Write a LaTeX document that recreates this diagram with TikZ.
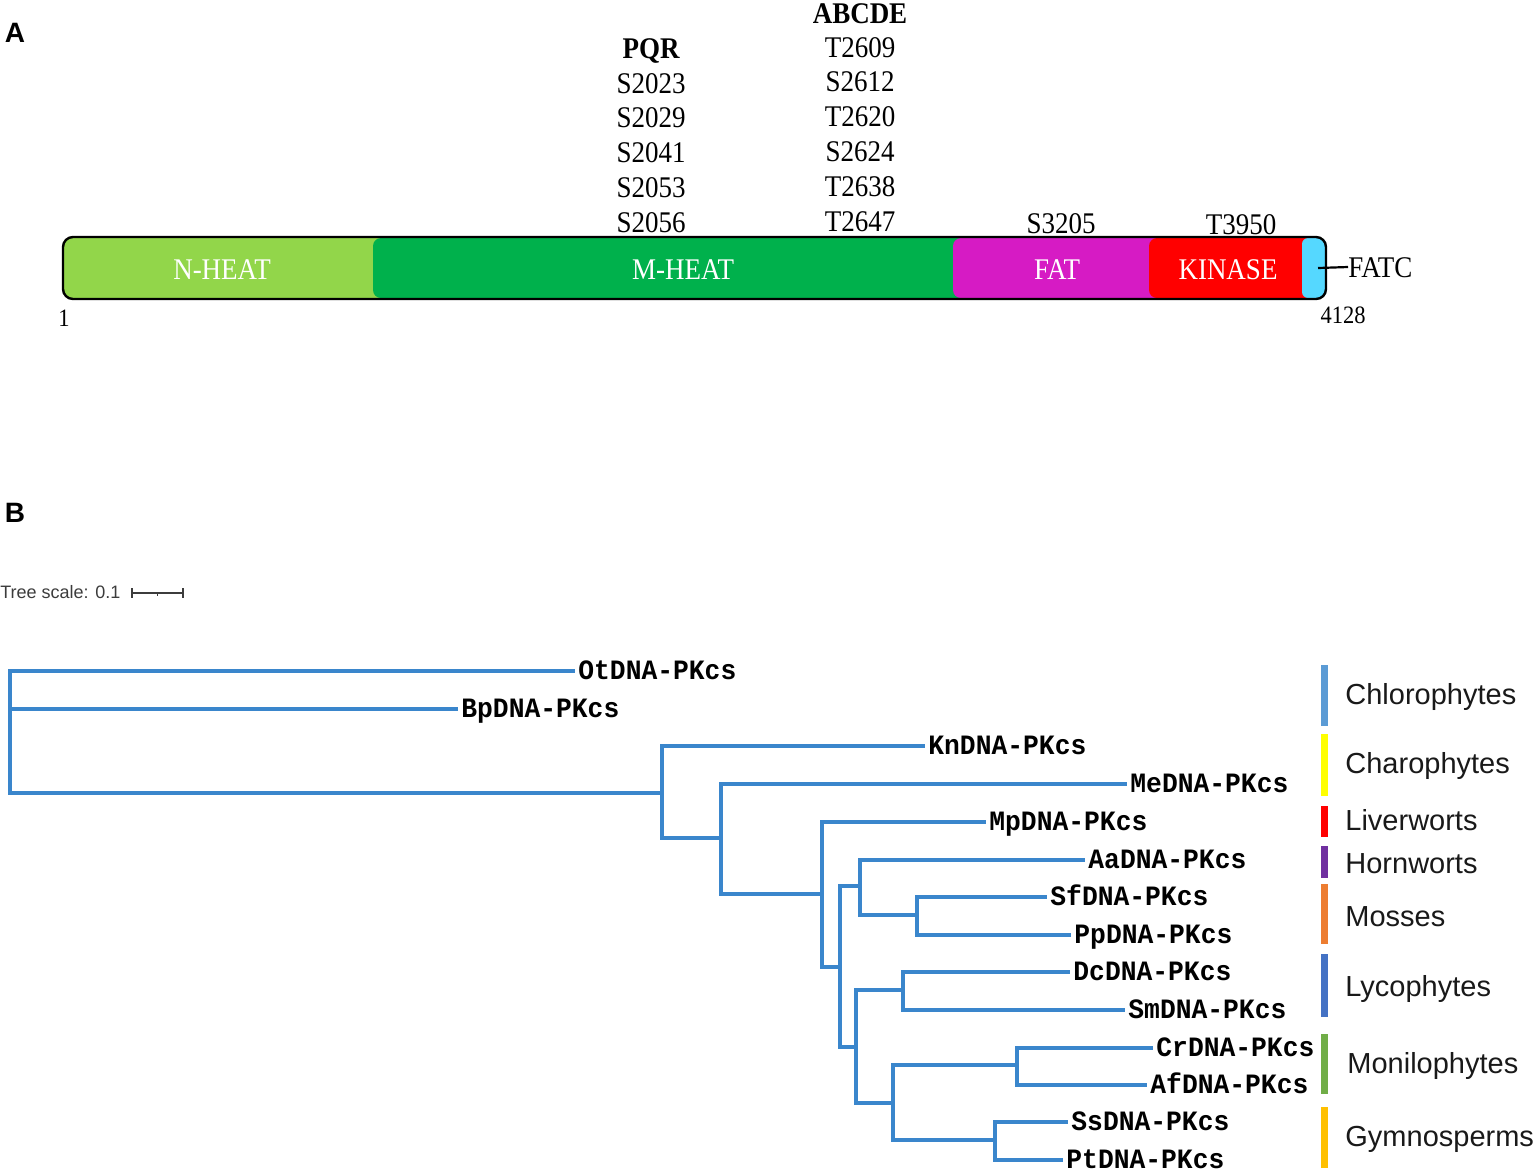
\documentclass[tikz,border=0pt]{standalone}
\usepackage{fontspec}
\setmainfont{Liberation Serif}
\newfontfamily\serifc{Liberation Serif}[FakeStretch=0.9]
\newfontfamily\monoc{Liberation Mono}[FakeStretch=0.94]
\newfontfamily\sansf{Liberation Sans}
\definecolor{nheat}{RGB}{146,214,74}
\definecolor{mheat}{RGB}{0,177,76}
\definecolor{fatcol}{RGB}{214,27,196}
\definecolor{kincol}{RGB}{255,0,0}
\definecolor{fatccol}{RGB}{85,216,255}
\definecolor{treeblue}{RGB}{58,134,204}
\definecolor{cchloro}{RGB}{91,155,213}
\definecolor{ccharo}{RGB}{255,255,0}
\definecolor{cliver}{RGB}{255,0,0}
\definecolor{chorn}{RGB}{112,48,160}
\definecolor{cmoss}{RGB}{237,125,49}
\definecolor{clyco}{RGB}{68,114,196}
\definecolor{cmonil}{RGB}{112,173,71}
\definecolor{cgymno}{RGB}{255,192,0}
\definecolor{scalegray}{RGB}{60,60,60}
\begin{document}
\begin{tikzpicture}[x=0.5pt,y=-0.5pt,
  site/.style={font=\serifc\fontsize{15}{18}\selectfont, inner sep=0pt, text height=10pt, text depth=0pt},
  sitehead/.style={site, font=\serifc\bfseries\fontsize{15}{18}\selectfont},
  small/.style={font=\serifc\fontsize{12.5}{15}\selectfont, inner sep=0pt, text height=8.3pt, text depth=0pt},
  dom/.style={site, text=white},
  seg/.style={rounded corners=4pt},
  leaf/.style={font=\monoc\bfseries\fontsize{14}{16}\selectfont, anchor=west, inner sep=0pt, text height=8pt, text depth=0pt},
  branch/.style={draw=treeblue, line width=1.7pt},
  grp/.style={font=\sansf\fontsize{14.5}{17}\selectfont, text=black!90, anchor=west, inner sep=0pt, text height=10.4pt, text depth=0pt},
  gbar/.style={line width=3.5pt},
  panel/.style={font=\sansf\bfseries\fontsize{14}{16}\selectfont, inner sep=0pt, text height=10pt, text depth=0pt}
]
\useasboundingbox (0,0) rectangle (1535,1174);

% ---------- Panel A ----------
\node[panel] (labA) at (15,32) {A};

\fill[nheat, seg] (63,237) rectangle (1326,299);
\fill[mheat, seg] (373,238) rectangle (1326,298);
\fill[fatcol, seg] (953,238) rectangle (1326,298);
\fill[kincol, seg] (1149,238) rectangle (1326,298);
\fill[fatccol, rounded corners=3pt] (1302,238) rectangle (1326,298);
\draw[line width=1.2pt, rounded corners=5pt] (63,237) rectangle (1326,299);

\node[dom] (dN) at (222,269) {N-HEAT};
\node[dom] (dM) at (683,269) {M-HEAT};
\node[dom] (dF) at (1057,269) {FAT};
\node[dom] (dK) at (1228,269) {KINASE};

\coordinate (fatcend) at (1318,268);
\node[site, anchor=west] (fatclab) at (1348,267) {FATC};
\draw[line width=1.1pt] (fatcend) -- (fatclab.west);

\node[small] (one) at (64,318) {1};
\node[small] (last) at (1343,315) {4128};

\node[sitehead] (pqr) at (651,48) {PQR};
\foreach \t [count=\i] in {S2023,S2029,S2041,S2053,S2056}
  \node[site] (p\i) at (651,{83+34.75*(\i-1)}) {\t};

\node[sitehead] (abcde) at (860,13) {ABCDE};
\foreach \t [count=\i] in {T2609,S2612,T2620,S2624,T2638,T2647}
  \node[site] (a\i) at (860,{47+34.8*(\i-1)}) {\t};

\node[site] (s3205) at (1061,223) {S3205};
\node[site] (t3950) at (1241,224) {T3950};

% ---------- Panel B ----------
\node[panel] (labB) at (15,512) {B};

\node[font=\sansf\fontsize{9}{11}\selectfont, text=scalegray, anchor=west, inner sep=0pt, text height=6.4pt, text depth=0pt] (tscale) at (0,592) {Tree scale: 0.1};
\coordinate (sbl) at (132,593);
\coordinate (sbr) at (183,593);
\draw[scalegray, line width=0.6pt] (sbl) -- (sbr);
\draw[scalegray, line width=0.6pt] (132,588) -- (132,598) (183,588) -- (183,598) (157.5,593) -- (157.5,596);

% internal nodes
\coordinate (r)   at (10,730);
\coordinate (n1)  at (662,793);
\coordinate (n2)  at (721,838);
\coordinate (n3)  at (822,894);
\coordinate (n4)  at (840,967);
\coordinate (n5)  at (860,886);
\coordinate (n7)  at (917,915);
\coordinate (n6)  at (856,1047);
\coordinate (n8)  at (903,990);
\coordinate (n9)  at (893,1103);
\coordinate (n10) at (1017,1065);
\coordinate (n11) at (995,1140);

% leaf tips
\coordinate (tOt) at (575,671);
\coordinate (tBp) at (458,709);
\coordinate (tKn) at (925,746);
\coordinate (tMe) at (1127,784);
\coordinate (tMp) at (986,822);
\coordinate (tAa) at (1085,860);
\coordinate (tSf) at (1047,897);
\coordinate (tPp) at (1071,935);
\coordinate (tDc) at (1070,972);
\coordinate (tSm) at (1125,1010);
\coordinate (tCr) at (1153,1048);
\coordinate (tAf) at (1147,1085);
\coordinate (tSs) at (1068,1122);
\coordinate (tPt) at (1063,1160);

% leaf labels
\node[leaf] (Ot) at ([xshift=1.5pt]tOt) {OtDNA-PKcs};
\node[leaf] (Bp) at ([xshift=1.5pt]tBp) {BpDNA-PKcs};
\node[leaf] (Kn) at ([xshift=1.5pt]tKn) {KnDNA-PKcs};
\node[leaf] (Me) at ([xshift=1.5pt]tMe) {MeDNA-PKcs};
\node[leaf] (Mp) at ([xshift=1.5pt]tMp) {MpDNA-PKcs};
\node[leaf] (Aa) at ([xshift=1.5pt]tAa) {AaDNA-PKcs};
\node[leaf] (Sf) at ([xshift=1.5pt]tSf) {SfDNA-PKcs};
\node[leaf] (Pp) at ([xshift=1.5pt]tPp) {PpDNA-PKcs};
\node[leaf] (Dc) at ([xshift=1.5pt]tDc) {DcDNA-PKcs};
\node[leaf] (Sm) at ([xshift=1.5pt]tSm) {SmDNA-PKcs};
\node[leaf] (Cr) at ([xshift=1.5pt]tCr) {CrDNA-PKcs};
\node[leaf] (Af) at ([xshift=1.5pt]tAf) {AfDNA-PKcs};
\node[leaf] (Ss) at ([xshift=1.5pt]tSs) {SsDNA-PKcs};
\node[leaf] (Pt) at ([xshift=1.5pt]tPt) {PtDNA-PKcs};

% branches
\draw[branch] (r) |- (tOt);
\draw[branch] (r) |- (tBp);
\draw[branch] (r) |- (n1);
\draw[branch] (n1) |- (tKn);
\draw[branch] (n1) |- (n2);
\draw[branch] (n2) |- (tMe);
\draw[branch] (n2) |- (n3);
\draw[branch] (n3) |- (tMp);
\draw[branch] (n3) |- (n4);
\draw[branch] (n4) |- (n5);
\draw[branch] (n4) |- (n6);
\draw[branch] (n5) |- (tAa);
\draw[branch] (n5) |- (n7);
\draw[branch] (n7) |- (tSf);
\draw[branch] (n7) |- (tPp);
\draw[branch] (n6) |- (n8);
\draw[branch] (n6) |- (n9);
\draw[branch] (n8) |- (tDc);
\draw[branch] (n8) |- (tSm);
\draw[branch] (n9) |- (n10);
\draw[branch] (n9) |- (n11);
\draw[branch] (n10) |- (tCr);
\draw[branch] (n10) |- (tAf);
\draw[branch] (n11) |- (tSs);
\draw[branch] (n11) |- (tPt);

% group bars and labels
\draw[gbar, cchloro] (1324,665) -- (1324,726);
\draw[gbar, ccharo]  (1324,734) -- (1324,796);
\draw[gbar, cliver]  (1324,806) -- (1324,837);
\draw[gbar, chorn]   (1324,846) -- (1324,878);
\draw[gbar, cmoss]   (1324,884) -- (1324,944);
\draw[gbar, clyco]   (1324,954) -- (1324,1017);
\draw[gbar, cmonil]  (1324,1034) -- (1324,1094);
\draw[gbar, cgymno]  (1324,1107) -- (1324,1168);

\node[grp] (gChl) at (1345,694) {Chlorophytes};
\node[grp] (gCha) at (1345,763) {Charophytes};
\node[grp] (gLiv) at (1345,820) {Liverworts};
\node[grp] (gHor) at (1345,863) {Hornworts};
\node[grp] (gMos) at (1345,916) {Mosses};
\node[grp] (gLyc) at (1345,986) {Lycophytes};
\node[grp] (gMon) at (1347,1063) {Monilophytes};
\node[grp] (gGym) at (1345,1136) {Gymnosperms};
\end{tikzpicture}
\end{document}
